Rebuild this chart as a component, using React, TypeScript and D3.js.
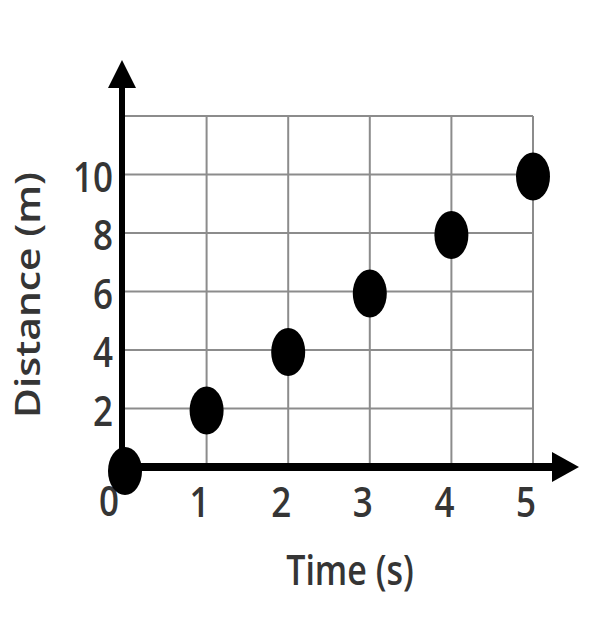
import { FC } from 'react';
import * as d3 from 'd3';

// data
const times = [0, 1, 2, 3, 4, 5];
const distances = [0, 2, 4, 6, 8, 10];
const xTicks = [1, 2, 3, 4, 5];
const yTicks = [2, 4, 6, 8, 10];
const yGrid = [2, 4, 6, 8, 10, 12];
const xLabel = 'Time (s)';
const yLabel = 'Distance (m)';

const W = 596;
const H = 622;

const App: FC = () => {
  // scales
  const x = d3.scaleLinear().domain([0, 5]).range([125, 533]);
  const y = d3.scaleLinear().domain([0, 12]).range([467, 116]);

  const gridColor = '#8c8c8c';
  const textColor = '#353535';
  const font = "'Open Sans', sans-serif";

  const x0 = x(0);
  const y0 = y(0);
  const yTop = y(12);
  const xEnd = x(5);

  return (
    <svg width={W} height={H} style={{ position: 'absolute', left: 0, top: 0, background: '#fff' }}>
      {/* vertical grid */}
      {xTicks.map((t) => (
        <line key={'vx' + t} x1={x(t)} x2={x(t)} y1={yTop} y2={y0} stroke={gridColor} strokeWidth={2} />
      ))}
      {/* horizontal grid */}
      {yGrid.map((t) => (
        <line key={'hy' + t} x1={x0} x2={xEnd} y1={y(t)} y2={y(t)} stroke={gridColor} strokeWidth={2} />
      ))}

      {/* y axis with arrow */}
      <line x1={x0 - 3} x2={x0 - 3} y1={y0 + 3} y2={84} stroke="#000" strokeWidth={6} />
      <path d={`M${x0 - 3},60 L${x0 - 17},88 L${x0 + 11},88 Z`} fill="#000" />

      {/* x axis with arrow */}
      <line x1={x0 - 12} x2={555} y1={y0} y2={y0} stroke="#000" strokeWidth={8} />
      <path d={`M579,${y0} L552,${y0 - 15} L552,${y0 + 15} Z`} fill="#000" />

      {/* tick labels */}
      {yTicks.map((t) => (
        <text
          key={'yl' + t}
          transform={`translate(113,${y(t) + 17}) scale(1,1.2)`}
          textAnchor="end"
          fontFamily={font}
          fontSize={35}
          fontWeight={600}
          fill={textColor}
        >
          {t}
        </text>
      ))}
      {xTicks.map((t) => (
        <text
          key={'xl' + t}
          transform={`translate(${x(t) - 7},517) scale(1,1.2)`}
          textAnchor="middle"
          fontFamily={font}
          fontSize={35}
          fontWeight={600}
          fill={textColor}
        >
          {t}
        </text>
      ))}
      <text
        transform={`translate(109,516) scale(1,1.2)`}
        textAnchor="middle"
        fontFamily={font}
        fontSize={35}
        fontWeight={600}
        fill={textColor}
      >
        0
      </text>

      {/* axis titles */}
      <text
        transform={`translate(350,585) scale(1,1.2)`}
        textAnchor="middle"
        fontFamily={font}
        fontSize={34}
        fontWeight={600}
        fill={textColor}
      >
        {xLabel}
      </text>
      <text
        transform={`translate(40,295) rotate(-90) scale(1.2,1)`}
        textAnchor="middle"
        fontFamily={font}
        fontSize={34}
        fontWeight={600}
        fill={textColor}
      >
        {yLabel}
      </text>

      {/* points */}
      {times.map((t, i) => (
        <ellipse key={'p' + i} cx={x(t)} cy={y(distances[i]) + (i === 0 ? 4 : 2)} rx={17} ry={24} fill="#000" />
      ))}
    </svg>
  );
};

export default App;
